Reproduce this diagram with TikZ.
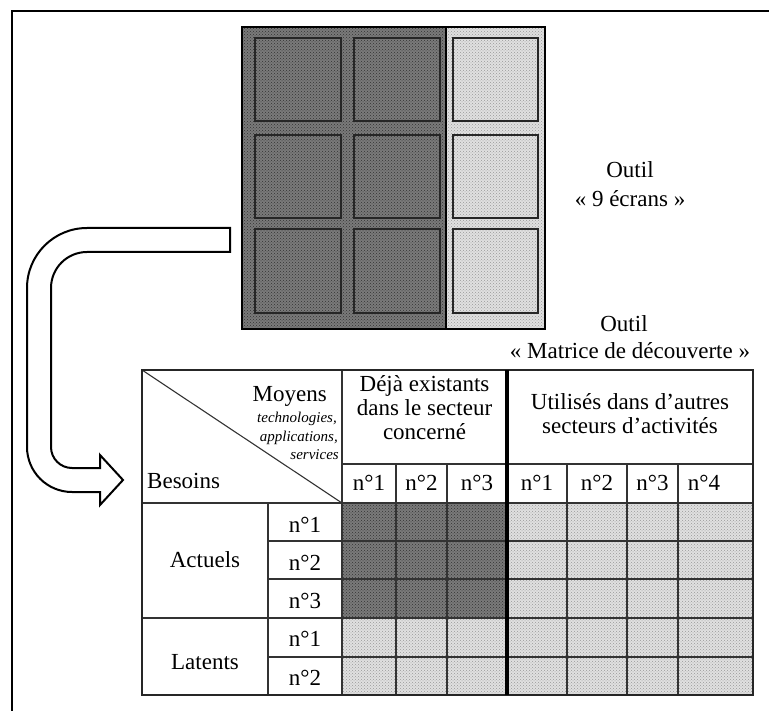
\documentclass[tikz,border=0pt]{standalone}
\usepackage{fontspec}
\setmainfont{Liberation Serif}
\usetikzlibrary{patterns}
\begin{document}
\begin{tikzpicture}[x=1pt,y=-1pt,
  gridline/.style={line width=1.1pt, draw=black!80},
  tablefont/.style={font=\fontsize{23}{24}\selectfont, inner sep=0pt},
  smallit/.style={font=\fontsize{15}{18}\selectfont\itshape, inner sep=0pt},
  labelfont/.style={font=\fontsize{23}{26}\selectfont, inner sep=0pt},
  darkzone/.style={fill=black!52, postaction={pattern=crosshatch dots, pattern color=black!80}},
  lightzone/.style={fill=black!12, postaction={pattern=crosshatch dots, pattern color=black!40}},
  screen/.style={draw=black!85, line width=1.3pt},
  blockarrow/.style={draw=black, line width=2pt, fill=white, line join=miter}
]
\useasboundingbox (0,0) rectangle (769,711);

% outer frame
\draw[line width=2pt] (12,711) -- (12,11) -- (769,11);

% ---------- 9 screens tool ----------
\fill[darkzone] (242,27) rectangle (446,329);
\fill[lightzone] (446,27) rectangle (545,329);
\foreach \ya/\yb in {38/121,135/218,229/313}{
  \draw[screen] (255,\ya) rectangle (341,\yb);
  \draw[screen] (354,\ya) rectangle (440,\yb);
  \draw[screen] (453,\ya) rectangle (538,\yb);
}
\draw[line width=2.2pt] (242,27) rectangle (545,329);
\draw[line width=2pt] (446,27) -- (446,329);

\node[labelfont, anchor=base] (o1) at (630,178) {Outil};
\node[labelfont, anchor=base] (o1b) at (630,207) {« 9 écrans »};
\node[labelfont, anchor=base] (o2) at (624,332) {Outil};
\node[labelfont, anchor=base] (o2b) at (630,359) {« Matrice de découverte »};

% ---------- block arrow ----------
\draw[blockarrow] (230,228) -- (87,228) .. controls (53.86,228) and (27,254.86) .. (27,288)
  -- (27,447) .. controls (27,471.85) and (47.15,492) .. (72,492)
  -- (100,492) -- (100,505) -- (123,480) -- (100,455) -- (100,468)
  -- (72,468) .. controls (60.4,468) and (51,458.6) .. (51,447)
  -- (51,288) .. controls (51,268.1) and (67.1,252) .. (87,252)
  -- (230,252) -- cycle;

% ---------- matrix ----------
\fill[darkzone] (342,503) rectangle (507,618);
\fill[lightzone] (507,503) rectangle (753,695);
\fill[lightzone] (342,618) rectangle (507,695);

% grid
\draw[gridline] (142,370) -- (342,503);
\draw[gridline] (342,370) -- (342,695);
\draw[gridline] (342,464) -- (753,464);
\draw[gridline] (142,503) -- (753,503);
\draw[gridline] (142,618) -- (753,618);
\draw[gridline] (268,503) -- (268,695);
\foreach \yy in {541,579,657}{ \draw[gridline] (268,\yy) -- (753,\yy); }
\foreach \xx in {396,447,567,627,678}{ \draw[gridline] (\xx,464) -- (\xx,695); }
\draw[line width=1.5pt, draw=black!85] (142,370) rectangle (753,695);
\draw[line width=3.5pt] (507,370) -- (507,695);

% header texts
\node[tablefont, anchor=base east] (moy) at (327,402) {Moyens};
\node[smallit, anchor=base east] (tec) at (337,423) {technologies,};
\node[smallit, anchor=base east] (app) at (338,442) {applications,};
\node[smallit, anchor=base east] (ser) at (339,460) {services};
\node[tablefont, anchor=base west] (bes) at (147,488) {Besoins};
\node[tablefont, align=center] (h1) at (424.5,408) {Déjà existants\\dans le secteur\\concerné};
\node[tablefont, align=center] (h2) at (630,414) {Utilisés dans d’autres\\secteurs d’activités};

\foreach \xx/\lab [count=\i] in {369/n°1,421.5/n°2,477/n°3,537/n°1,597/n°2,652.5/n°3,704/n°4}{
  \node[tablefont] (c\i) at (\xx,483) {\lab};
}

\node[tablefont] (act) at (205,560) {Actuels};
\node[tablefont] (lat) at (205,662) {Latents};
\foreach \yy/\lab [count=\i] in {525/n°1,563/n°2,601/n°3,639/n°1,678/n°2}{
  \node[tablefont] (r\i) at (305,\yy) {\lab};
}
\end{tikzpicture}
\end{document}
